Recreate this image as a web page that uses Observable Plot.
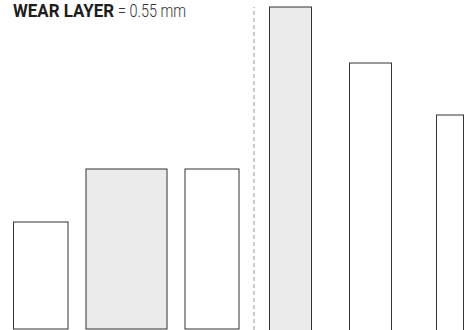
<!DOCTYPE html>
<html>
<head>
<meta charset="utf-8">
<script src="https://cdn.jsdelivr.net/npm/d3@7"></script>
<script src="https://cdn.jsdelivr.net/npm/@observablehq/plot@0.6"></script>
<style>
  html, body { margin: 0; padding: 0; background: #fff; }
  #wrap { position: relative; width: 467px; height: 330px; overflow: hidden; }
  .t { position: absolute; top: 1px; font-family: "Roboto", sans-serif; font-size: 19px; line-height: 19px; white-space: nowrap; transform-origin: 0 0; }
  #t1 { left: 13px; font-weight: bold; color: #1e1e1e; transform: scaleX(0.89); }
  #t2 { left: 118px; font-weight: 300; color: #333; transform: scaleX(0.76); }
</style>
</head>
<body>
<div id="wrap"><div class="t" id="t1">WEAR LAYER</div><div class="t" id="t2">= 0.55 mm</div></div>
<script>
// Bars: horizontal extents and heights (chart units), fill group
const names   = ["A", "B", "C", "D", "E", "F"];
const xStart  = [13.5, 86, 185, 269.5, 349.5, 436.5];
const xEnd    = [68, 167, 239, 311.5, 391.5, 463.5];
const heights = [108, 161, 161, 323, 267, 215];
const base    = [1, 1, 1, -5, -5, -5];
const shaded  = [false, true, false, true, false, false];
const dividerX = 253.5;
const dividerTop = 323;

const bars = names.map((n, i) => ({name: n, x1: xStart[i], x2: xEnd[i], y1: base[i], y2: heights[i], shaded: shaded[i]}));

const chart = Plot.plot({
  width: 467,
  height: 330,
  margin: 0,
  x: {domain: [0, 467], range: [0, 467], axis: null},
  y: {domain: [0, 330], range: [330, 0], axis: null},
  marks: [
    Plot.ruleX([dividerX], {y1: 0, y2: dividerTop, stroke: "#999", strokeDasharray: "4,3", strokeWidth: 1}),
    Plot.rect(bars, {x1: "x1", x2: "x2", y1: "y1", y2: "y2", fill: d => d.shaded ? "#ebebeb" : "#fff", stroke: "#333", strokeWidth: 1})
  ]
});
document.getElementById("wrap").prepend(chart);
chart.style.position = "absolute";
chart.style.left = "0";
chart.style.top = "0";
</script>
</body>
</html>
